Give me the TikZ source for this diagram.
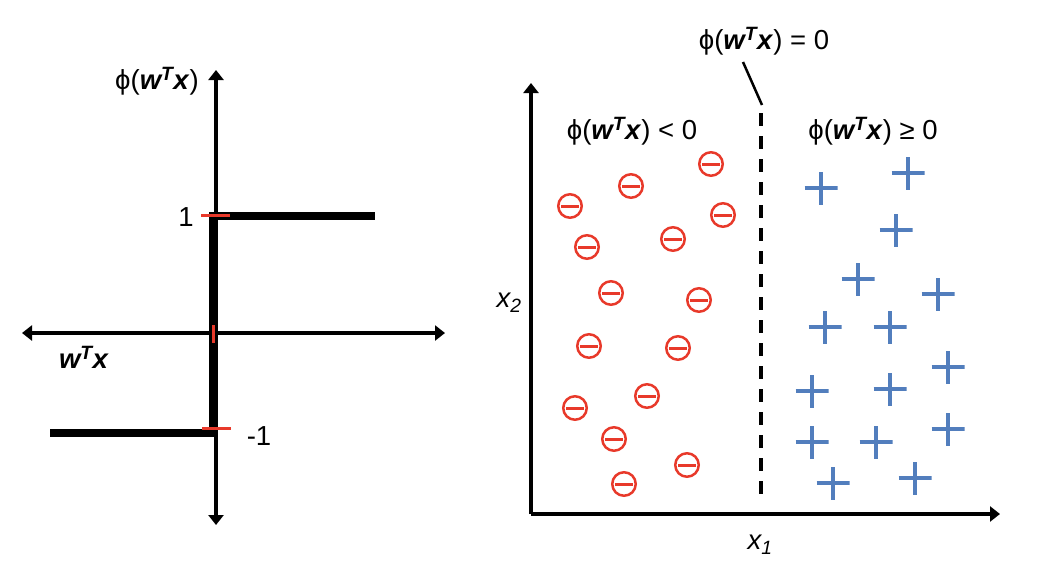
\documentclass[tikz,border=0pt]{standalone}
\usepackage{fontspec}
\setmainfont{Liberation Sans}
\usepackage{tikz}
\usetikzlibrary{arrows.meta,positioning,calc}
\definecolor{negc}{HTML}{E8392A}
\definecolor{posc}{HTML}{527EBD}
\definecolor{ink}{HTML}{000000}
\newcommand{\wTx}{\textbf{\textit{w\textsuperscript{T}x}}}
\tikzset{
  axis/.style={-{Triangle[length=10pt,width=15pt]}, line width=3.2pt, draw=ink},
  biaxis/.style={{Triangle[length=10pt,width=15pt]}-{Triangle[length=10pt,width=15pt]},
                 line width=3.2pt, draw=ink},
  stepfn/.style={line width=8pt, draw=ink, line join=miter},
  tick/.style={line width=3pt, draw=negc},
  lbl/.style={font=\fontsize{27.5}{32}\selectfont, inner sep=0pt},
  bound/.style={line width=3.3pt, draw=ink, dash pattern=on 13pt off 10pt},
  % punkte der beiden klassen
  negpt/.style={circle, draw=negc, line width=2.5pt, minimum size=23.5pt, inner sep=0pt,
                path picture={\draw[negc, line width=3pt]
                  ([xshift=-9pt]path picture bounding box.center) --
                  ([xshift=9pt]path picture bounding box.center);}},
  pospt/.style={minimum size=33pt, inner sep=0pt,
                path picture={\draw[posc, line width=4pt]
                  ([xshift=-16.5pt]path picture bounding box.center) --
                  ([xshift=16.5pt]path picture bounding box.center)
                  ([yshift=-16.5pt]path picture bounding box.center) --
                  ([yshift=16.5pt]path picture bounding box.center);}},
}
\begin{document}
\begin{tikzpicture}[x=1pt, y=-1pt]
  \useasboundingbox (0,0) rectangle (1062,574);

  % unit step
  \coordinate (vtop) at (216,70);
  \coordinate (vbot) at (216,525);
  \coordinate (hleft) at (22,333);
  \coordinate (hright) at (445,333);
  \draw[biaxis] (vbot) -- (vtop);
  \draw[biaxis] (hleft) -- (hright);
  \coordinate (lowend) at (50,433);
  \coordinate (lowcorner) at (213,433);
  \coordinate (highcorner) at (213,216);
  \coordinate (highend) at (375,216);
  \draw[stepfn] (lowend) -- (lowcorner) -- (highcorner) -- (highend);
  \coordinate (t1a) at (201,215);  \coordinate (t1b) at (230,215);
  \coordinate (t0a) at (213,325);  \coordinate (t0b) at (213,343);
  \coordinate (tma) at (202,428);  \coordinate (tmb) at (231,428);
  \draw[tick] (t1a) -- (t1b);
  \draw[tick] (t0a) -- (t0b);
  \draw[tick] (tma) -- (tmb);
  \node[lbl] (one) at (186,217) {1};
  \node[lbl] (mone) at (259,436) {-1};
  \node[lbl] (phiax) at (157,81) {ϕ(\wTx)};
  \node[lbl] (net) at (84,357) {\wTx};

  % decision regions
  \coordinate (origin) at (531,514);
  \coordinate (x2tip) at (531,83);
  \coordinate (x1tip) at (1000,514);
  \draw[axis] (origin) -- (x2tip);
  \draw[axis] (origin) -- (x1tip);
  \coordinate (btop) at (761,113);
  \coordinate (bbot) at (761,500);
  \draw[bound] (btop) -- (bbot);
  \node[lbl] (zero) at (764,41) {ϕ(\wTx) = 0};
  \coordinate (leadtop) at (743,62);
  \coordinate (leadbot) at (762,105);
  \draw[line width=2.5pt] (leadtop) -- (leadbot);
  \node[lbl] (negreg) at (632,131) {ϕ(\wTx) < 0};
  \node[lbl] (posreg) at (873,131) {ϕ(\wTx) ≥ 0};
  \node[lbl] (xtwo) at (509,303) {\textit{x\textsubscript{2}}};
  \node[lbl] (xone) at (760,545) {\textit{x\textsubscript{1}}};

  \foreach \px/\py [count=\i] in {711/164,631/186,570/206,723/215,673/239,
      587/247,611/293,699/300,589/346,678/348,647/396,575/408,614/439,
      687/465,624/484}
    \node[negpt] (neg\i) at (\px,\py) {};
  \foreach \px/\py [count=\i] in {821/188,908/173,896/230,858/279,938/294,
      825/327,890/327,948/367,812/391,890/389,812/442,876/442,948/429,
      833/483,915/478}
    \node[pospt] (pos\i) at (\px,\py) {};
\end{tikzpicture}
\end{document}
